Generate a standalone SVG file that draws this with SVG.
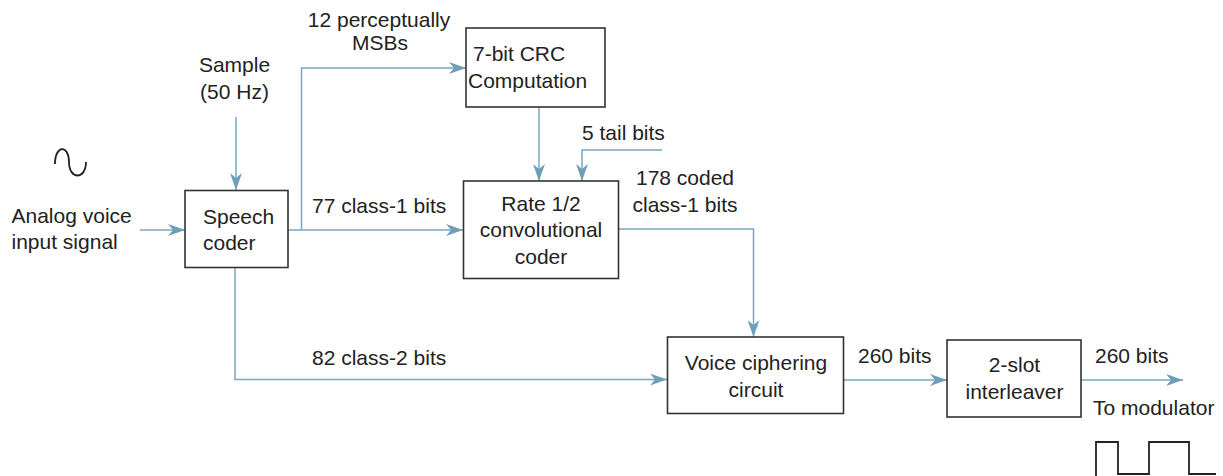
<svg xmlns="http://www.w3.org/2000/svg" width="1223" height="476" viewBox="0 0 1223 476">
<defs>
<style>
.box{fill:#fff;stroke:#333;stroke-width:1.6}
.t{font-family:"Liberation Sans",Arial,sans-serif;font-size:21px;fill:#222}
.m{text-anchor:middle}
.c{fill:none;stroke:#78a8bf;stroke-width:1.5}
.k{fill:none;stroke:#222;stroke-width:1.8}
</style>
<marker id="ah" markerUnits="userSpaceOnUse" markerWidth="18" markerHeight="12" refX="17" refY="6" orient="auto">
<path d="M0,0 L17,6 L0,12 L5,6 z" fill="#6d9fb8"/>
</marker>
</defs>
<rect width="1223" height="476" fill="#fff"/>

<g id="connectors">
<path class="c" d="M140,230 H185" marker-end="url(#ah)"/>
<path class="c" d="M236,117 V190" marker-end="url(#ah)"/>
<path class="c" d="M288,230 H463" marker-end="url(#ah)"/>
<path class="c" d="M301.5,230 V68 H466" marker-end="url(#ah)"/>
<path class="c" d="M539,107 V181" marker-end="url(#ah)"/>
<path class="c" d="M662,150 H582 V181" marker-end="url(#ah)"/>
<path class="c" d="M618,229 H753.5 V337" marker-end="url(#ah)"/>
<path class="c" d="M235,267 V379.5 H667" marker-end="url(#ah)"/>
<path class="c" d="M843,380 H947" marker-end="url(#ah)"/>
<path class="c" d="M1081,380 H1183" marker-end="url(#ah)"/>
</g>

<g id="input">
<path class="k" d="M55,164 C55,144.5 69,144.5 69,162 C69,180 86,180 86,162" stroke-width="1.6"/>
<text class="t" x="11.5" y="223">Analog voice</text>
<text class="t" x="11.5" y="249">input signal</text>
</g>

<g id="sample">
<text class="t m" x="234.5" y="72">Sample</text>
<text class="t m" x="234.5" y="99">(50 Hz)</text>
</g>

<g id="speech-coder">
<rect class="box" x="185" y="190.5" width="103" height="77"/>
<text class="t" x="203" y="224">Speech</text>
<text class="t" x="203" y="250">coder</text>
</g>

<g id="crc">
<rect class="box" x="466" y="28" width="139" height="79"/>
<text class="t" x="473" y="61">7-bit CRC</text>
<text class="t" x="468" y="88">Computation</text>
</g>

<g id="conv-coder">
<rect class="box" x="463.5" y="181" width="155" height="97.5"/>
<text class="t m" x="541" y="211">Rate 1/2</text>
<text class="t m" x="541" y="237">convolutional</text>
<text class="t m" x="541" y="263.5">coder</text>
</g>

<g id="cipher">
<rect class="box" x="667.5" y="337" width="176" height="76.5"/>
<text class="t m" x="756" y="370">Voice ciphering</text>
<text class="t m" x="756" y="396.5">circuit</text>
</g>

<g id="interleaver">
<rect class="box" x="947" y="340" width="134" height="77"/>
<text class="t m" x="1014.5" y="372">2-slot</text>
<text class="t m" x="1014.5" y="398.5">interleaver</text>
</g>

<g id="labels">
<text class="t m" x="379" y="26.5">12 perceptually</text>
<text class="t m" x="380" y="50">MSBs</text>
<text class="t" x="582" y="140">5 tail bits</text>
<text class="t m" x="685" y="185">178 coded</text>
<text class="t m" x="685" y="211.5">class-1 bits</text>
<text class="t" x="312" y="213">77 class-1 bits</text>
<text class="t" x="312" y="365">82 class-2 bits</text>
<text class="t" x="858" y="362.5">260 bits</text>
<text class="t" x="1095" y="362.5">260 bits</text>
<text class="t" x="1093" y="415">To modulator</text>
</g>

<g id="modulator-wave">
<path class="k" d="M1096,476 V442 H1118 V474 H1149 V442 H1189 V474 H1216"/>
</g>
</svg>
